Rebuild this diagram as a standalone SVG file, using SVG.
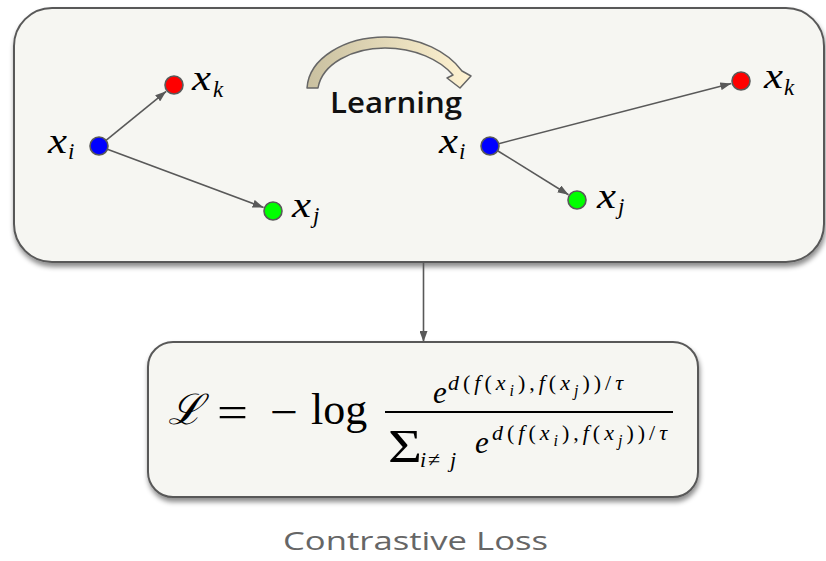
<svg xmlns="http://www.w3.org/2000/svg" width="826" height="561" viewBox="0 0 826 561">
<defs>
<style>
.box{fill:#f6f6f2;stroke:#595959;stroke-width:2;filter:url(#sh)}
.edge{stroke:#595959;stroke-width:1.6;fill:none;marker-end:url(#ah)}
.node{stroke:#595959;stroke-width:1.6}
.m{font-family:"Liberation Serif","DejaVu Serif",serif;font-style:italic;fill:#000}
.u{font-family:"Liberation Serif","DejaVu Serif",serif;font-style:normal;fill:#000}
.lbl{font-size:35px}
.sub{font-size:23px}
.ex{font-size:22px}
.ss{font-size:16px}
</style>
<filter id="sh" x="-5%" y="-10%" width="110%" height="125%">
<feDropShadow dx="1" dy="4" stdDeviation="2.5" flood-color="#000" flood-opacity="0.45"/>
</filter>
<marker id="ah" markerUnits="userSpaceOnUse" markerWidth="11" markerHeight="8" refX="11" refY="4" orient="auto">
<path d="M0,0 L11,4 L0,8 z" fill="#595959"/>
</marker>
<linearGradient id="cg" x1="0" y1="0" x2="1" y2="0">
<stop offset="0" stop-color="#c9c0a0"/>
<stop offset="1" stop-color="#fff3d2"/>
</linearGradient>
</defs>

<g id="top-box">
<rect class="box" x="14" y="8" width="810" height="254" rx="38" ry="38"/>
</g>
<g id="bottom-box">
<rect class="box" x="148" y="342" width="550" height="155" rx="25" ry="25"/>
</g>

<g id="learning-arrow">
<path d="M307,88 C309,58 345,37 385,37 C420,37 448,52 462,71 L471,76 L460,88 L447,78 L453,75 C440,60 415,48 385,48 C352,48 322,64 318,88 Z" fill="url(#cg)" stroke="#666" stroke-width="1.5" stroke-linejoin="round"/>
<text x="330" y="113" font-family="'Open Sans','Liberation Sans',sans-serif" font-weight="600" font-size="28" fill="#111" textLength="132" lengthAdjust="spacingAndGlyphs">Learning</text>
</g>

<g id="connectors">
<line class="edge" x1="106" y1="140.3" x2="166.2" y2="91.3"/>
<line class="edge" x1="107.4" y1="149.2" x2="263.6" y2="207.5"/>
<line class="edge" x1="498.7" y1="143.7" x2="731.3" y2="83.5"/>
<line class="edge" x1="497.6" y1="150.7" x2="568.5" y2="194.7"/>
<line class="edge" x1="423.5" y1="263" x2="423.5" y2="342"/>
</g>

<g id="left-xi">
<circle class="node" cx="99" cy="146" r="9" fill="#0000ff"/>
<text class="m lbl" x="48" y="153" textLength="19" lengthAdjust="spacingAndGlyphs">x</text><text class="m sub" x="68" y="159">i</text>
</g>
<g id="left-xk">
<circle class="node" cx="174" cy="85" r="9" fill="#ff0000"/>
<text class="m lbl" x="192" y="90" textLength="19" lengthAdjust="spacingAndGlyphs">x</text><text class="m sub" x="213" y="97">k</text>
</g>
<g id="left-xj">
<circle class="node" cx="273" cy="211" r="9" fill="#00ff00"/>
<text class="m lbl" x="292" y="217" textLength="19" lengthAdjust="spacingAndGlyphs">x</text><text class="m sub" x="313" y="223">j</text>
</g>
<g id="right-xi">
<circle class="node" cx="490" cy="146" r="9" fill="#0000ff"/>
<text class="m lbl" x="439" y="153" textLength="19" lengthAdjust="spacingAndGlyphs">x</text><text class="m sub" x="459" y="159">i</text>
</g>
<g id="right-xk">
<circle class="node" cx="741" cy="81" r="9" fill="#ff0000"/>
<text class="m lbl" x="764" y="88" textLength="19" lengthAdjust="spacingAndGlyphs">x</text><text class="m sub" x="784" y="95">k</text>
</g>
<g id="right-xj">
<circle class="node" cx="577" cy="200" r="9" fill="#00ff00"/>
<text class="m lbl" x="597" y="208" textLength="19" lengthAdjust="spacingAndGlyphs">x</text><text class="m sub" x="618" y="214">j</text>
</g>

<g id="formula">
<text class="m" x="168" y="424" font-size="42">ℒ</text>
<text class="u" x="217" y="427" font-size="44" textLength="31" lengthAdjust="spacingAndGlyphs">=</text>
<text class="u" x="270" y="427" font-size="44" textLength="28" lengthAdjust="spacingAndGlyphs">−</text>
<text class="u" x="311" y="424" font-size="44">log</text>
<line x1="385" y1="412" x2="673" y2="412" stroke="#000" stroke-width="2"/>
<text class="m" x="433" y="403" font-size="31">e</text>
<text class="ex" x="448" y="390" textLength="175" lengthAdjust="spacing"><tspan class="m">d</tspan><tspan class="u">(</tspan><tspan class="m">f</tspan><tspan class="u">(</tspan><tspan class="m">x</tspan><tspan class="m ss" dy="6">i</tspan><tspan class="u" dy="-6">),</tspan><tspan class="m">f</tspan><tspan class="u">(</tspan><tspan class="m">x</tspan><tspan class="m ss" dy="6">j</tspan><tspan class="u" dy="-6">))/</tspan><tspan class="m">τ</tspan></text>
<text class="u" x="388" y="462" font-size="46" textLength="34" lengthAdjust="spacingAndGlyphs">Σ</text>
<text class="m" x="420" y="467" font-size="22">i</text><text class="u" x="428" y="467" font-size="22">≠</text><text class="m" x="450" y="467" font-size="22">j</text>
<text class="m" x="475" y="453" font-size="31">e</text>
<text class="ex" x="492" y="440" textLength="175" lengthAdjust="spacing"><tspan class="m">d</tspan><tspan class="u">(</tspan><tspan class="m">f</tspan><tspan class="u">(</tspan><tspan class="m">x</tspan><tspan class="m ss" dy="6">i</tspan><tspan class="u" dy="-6">),</tspan><tspan class="m">f</tspan><tspan class="u">(</tspan><tspan class="m">x</tspan><tspan class="m ss" dy="6">j</tspan><tspan class="u" dy="-6">))/</tspan><tspan class="m">τ</tspan></text>
</g>

<g id="caption">
<text x="283" y="550" font-family="'Open Sans','Liberation Sans',sans-serif" font-size="26" fill="#666" textLength="265" lengthAdjust="spacingAndGlyphs">Contrastive Loss</text>
</g>
</svg>
